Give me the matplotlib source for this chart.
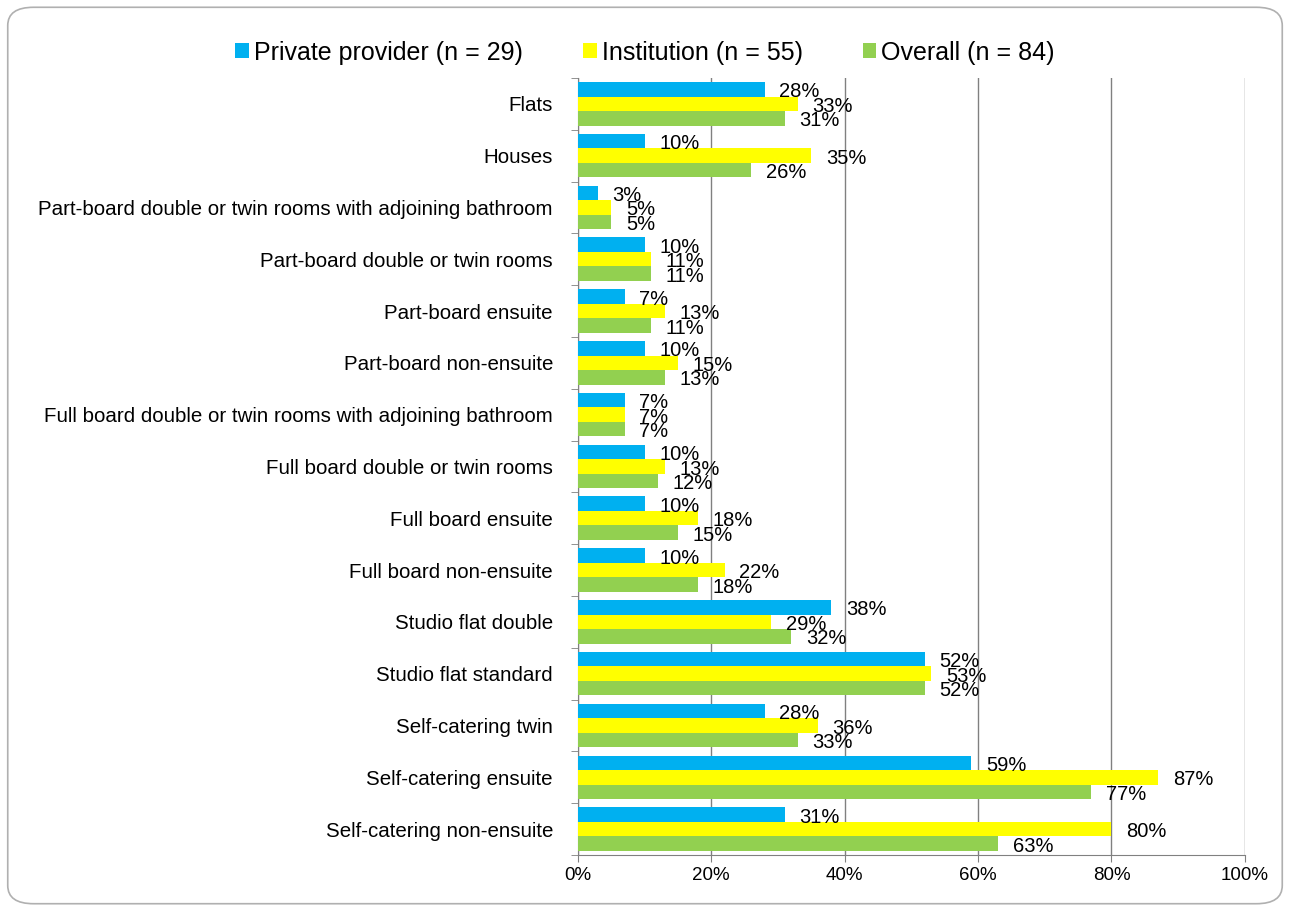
import matplotlib.pyplot as plt
import numpy as np
from matplotlib.patches import FancyBboxPatch

plt.rcParams['font.family'] = ['Liberation Sans', 'DejaVu Sans']

categorias = ['Flats', 'Houses',
              'Part-board double or twin rooms with adjoining bathroom',
              'Part-board double or twin rooms', 'Part-board ensuite',
              'Part-board non-ensuite',
              'Full board double or twin rooms with adjoining bathroom',
              'Full board double or twin rooms', 'Full board ensuite',
              'Full board non-ensuite', 'Studio flat double',
              'Studio flat standard', 'Self-catering twin',
              'Self-catering ensuite', 'Self-catering non-ensuite']
privado = [28, 10, 3, 10, 7, 10, 7, 10, 10, 10, 38, 52, 28, 59, 31]
instituicao = [33, 35, 5, 11, 13, 15, 7, 13, 18, 22, 29, 53, 36, 87, 80]
geral = [31, 26, 5, 11, 11, 13, 7, 12, 15, 18, 32, 52, 33, 77, 63]

series = [('Private provider (n = 29)', privado, '#00B0F0'),
          ('Institution (n = 55)', instituicao, '#FFFF00'),
          ('Overall (n = 84)', geral, '#92D050')]

fig = plt.figure(figsize=(12.9, 9.11), dpi=100)
ax = fig.add_axes([0.448, 0.0615, 0.517, 0.853])

# borda arredondada da figura
borda = FancyBboxPatch((0.006, 0.008), 0.988, 0.984, boxstyle='round,pad=0,rounding_size=0.02',
                       transform=fig.transFigure, fill=False, edgecolor='#b0b0b0', linewidth=1.2)
fig.patches.append(borda)

y = np.arange(len(categorias))
h = 0.28
for i, (nome, valores, cor) in enumerate(series):
    pos = y + (i - 1) * h
    ax.barh(pos, valores, height=h, color=cor, label=nome, zorder=3)
    for p, v in zip(pos, valores):
        ax.text(v + 2.2, p + 0.05, f'{v}%', va='center', ha='left', fontsize=14.5, zorder=4)

ax.set_ylim(len(categorias) - 0.5, -0.5)
ax.set_xlim(0, 100)
ax.set_xticks(range(0, 101, 20))
ax.set_xticklabels([f'{t}%' for t in range(0, 101, 20)], fontsize=13.5)
ax.set_yticks(y)
ax.set_yticklabels(categorias, fontsize=14.8)
ax.set_yticks(np.arange(-0.5, len(categorias), 1), minor=True)
ax.tick_params(axis='y', which='major', length=0, pad=18)
ax.tick_params(axis='y', which='minor', length=5, color='#808080')
ax.tick_params(axis='x', length=5, color='#808080')
ax.grid(axis='x', color='#808080', linewidth=1, zorder=0)
for lado in ['top', 'right']:
    ax.spines[lado].set_visible(False)
ax.spines['left'].set_color('#808080')
ax.spines['bottom'].set_color('#808080')

fig.legend(loc='upper center', bbox_to_anchor=(0.5, 0.98), ncol=3, frameon=False,
           fontsize=18, handlelength=0.55, handleheight=0.55, handletextpad=0.2, columnspacing=2.4)

plt.savefig('out.png', dpi=100)
